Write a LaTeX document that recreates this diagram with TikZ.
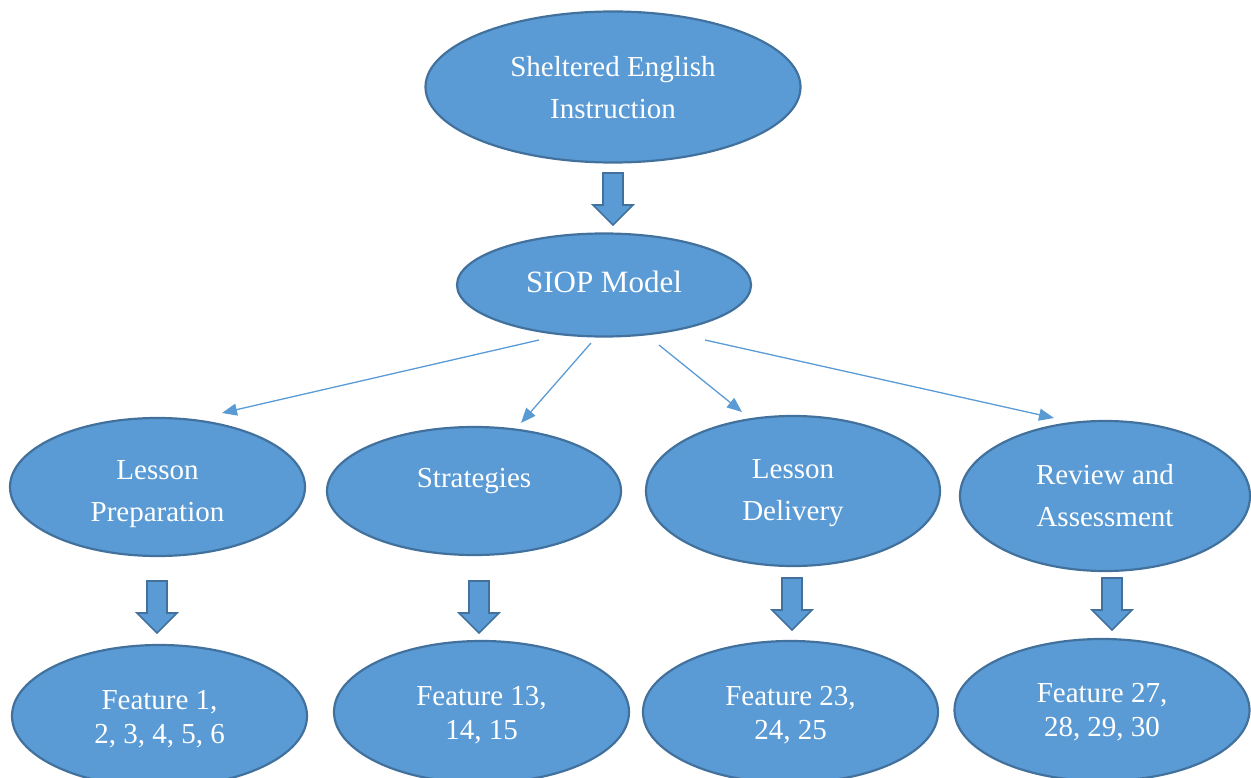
\documentclass[tikz,border=0pt]{standalone}
\usepackage{fontspec}
\setmainfont{Liberation Serif}
\usetikzlibrary{shapes.geometric,arrows.meta}
\definecolor{fillblue}{HTML}{5B9BD5}
\definecolor{edgeblue}{HTML}{41719C}
\definecolor{lineblue}{HTML}{5B9BD5}
\tikzset{
  oval/.style={ellipse, draw=edgeblue, fill=fillblue, line width=2.2pt, inner sep=0pt},
  txt/.style={text=white, align=center, inner sep=0pt, font=\fontsize{29}{42}\selectfont},
  feattxt/.style={txt, font=\fontsize{29}{34}\selectfont},
  thin/.style={draw=lineblue, line width=1.3pt, -{Triangle[length=15pt,width=12pt]}},
  barrow/.style={fill=fillblue, draw=edgeblue, line width=1.6pt, line join=miter},
  blockarrow/.pic={\filldraw[barrow] (-10,0) -- (10,0) -- (10,32) -- (20,32) -- (0,52) -- (-20,32) -- (-10,32) -- cycle;}
}
\begin{document}
\begin{tikzpicture}[x=1pt,y=-1pt]
\useasboundingbox (0,0) rectangle (1251,778);
\node[oval, minimum width=375, minimum height=151, label={[txt, yshift=-1pt]center:{Sheltered English\\Instruction}}] (sei) at (613,87) {};
\node[oval, minimum width=294, minimum height=103, label={[txt, font=\fontsize{31}{42}\selectfont, yshift=3pt]center:{SIOP Model}}] (siop) at (604,285) {};
\node[oval, minimum width=295, minimum height=138, label={[txt, yshift=-7pt]center:{Lesson\\Preparation}}] (lp) at (157.5,487) {};
\node[oval, minimum width=294, minimum height=128, label={[txt, yshift=10pt]center:{Strategies}}] (st) at (474,491) {};
\node[oval, minimum width=294, minimum height=150, label={[txt, yshift=-2.5pt]center:{Lesson\\Delivery}}] (ld) at (793,491) {};
\node[oval, minimum width=290, minimum height=150, label={[txt]center:{Review and\\Assessment}}] (ra) at (1105,496) {};
\node[oval, minimum width=295, minimum height=142, label={[feattxt, yshift=-3pt]center:{Feature 1,\\2, 3, 4, 5, 6}}] (f1) at (159.5,716) {};
\node[oval, minimum width=295, minimum height=142, label={[feattxt, yshift=-3pt]center:{Feature 13,\\14, 15}}] (f2) at (481.5,712) {};
\node[oval, minimum width=295, minimum height=142, label={[feattxt, yshift=-3pt]center:{Feature 23,\\24, 25}}] (f3) at (790.5,712) {};
\node[oval, minimum width=295, minimum height=142, label={[feattxt, yshift=-2.5pt]center:{Feature 27,\\28, 29, 30}}] (f4) at (1102,710) {};

\pic at (613,173) {blockarrow};
\pic at (157,581) {blockarrow};
\pic at (479,581) {blockarrow};
\pic at (792,578) {blockarrow};
\pic at (1112,578) {blockarrow};

\coordinate (s1) at (539,340); \coordinate (e1) at (222,413);
\coordinate (s2) at (591,343); \coordinate (e2) at (521,423);
\coordinate (s3) at (659,345); \coordinate (e3) at (742,412);
\coordinate (s4) at (705,340); \coordinate (e4) at (1054,418);
\draw[thin] (s1) -- (e1);
\draw[thin] (s2) -- (e2);
\draw[thin] (s3) -- (e3);
\draw[thin] (s4) -- (e4);
\end{tikzpicture}
\end{document}
